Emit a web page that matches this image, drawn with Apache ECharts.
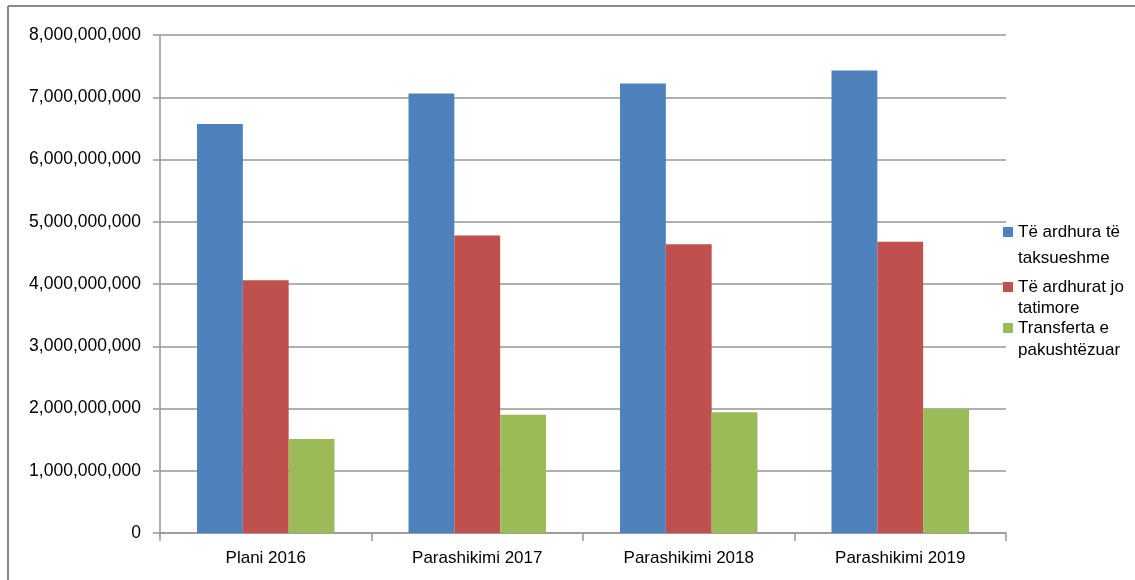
<!DOCTYPE html>
<html>
<head>
<meta charset="utf-8">
<script src="https://cdn.jsdelivr.net/npm/echarts@6/dist/echarts.min.js"></script>
<style>
  html, body { margin: 0; padding: 0; background: #fff; }
  #main { width: 1135px; height: 580px; }
</style>
</head>
<body>
<div id="main"></div>
<script>
// categories and series
var categories = ['Plani 2016', 'Parashikimi 2017', 'Parashikimi 2018', 'Parashikimi 2019'];
var taksueshme = [6570000000, 7060000000, 7220000000, 7430000000];
var joTatimore = [4060000000, 4780000000, 4640000000, 4680000000];
var transferta = [1510000000, 1900000000, 1940000000, 1990000000];
var seriesNames = ['Të ardhura të\ntaksueshme', 'Të ardhurat jo\ntatimore', 'Transferta e\npakushtëzuar'];
var colors = ['#4F81BD', '#C0504D', '#9BBB59'];

var font = 'Liberation Sans, Arial, sans-serif';

function fmt(v) {
    return String(v).replace(/\B(?=(\d{3})+(?!\d))/g, ',');
}

// one legend per item so each can be placed on its own;
// a blank first line keeps the icon level with the first text line
function legendFor(i, iconY, lh) {
    return {
        left: 1003,
        top: iconY - 1.5 * lh,
        orient: 'vertical',
        padding: 0,
        itemWidth: 10,
        itemHeight: 10,
        itemGap: 0,
        icon: 'rect',
        selectedMode: false,
        data: [seriesNames[i]],
        formatter: function (name) { return ' \n' + name; },
        textStyle: {
            fontFamily: font,
            fontSize: 17,
            color: '#000',
            lineHeight: lh
        }
    };
}

var myChart = echarts.init(document.getElementById('main'));
myChart.setOption({
    animation: false,
    color: colors,
    grid: {
        left: 160,
        right: 129,
        top: 35,
        bottom: 47,
        containLabel: false
    },
    legend: [
        legendFor(0, 232, 26),
        legendFor(1, 287, 21),
        legendFor(2, 328, 22)
    ],
    graphic: [
        { type: 'line', shape: { x1: 8, y1: 6, x2: 1135, y2: 6 }, style: { stroke: '#8a8a8a', lineWidth: 2 } },
        { type: 'line', shape: { x1: 8, y1: 6, x2: 8, y2: 580 }, style: { stroke: '#8a8a8a', lineWidth: 2 } }
    ],
    xAxis: {
        type: 'category',
        data: categories,
        axisLine: { lineStyle: { color: '#969696', width: 1.5 } },
        axisTick: { show: true, length: 8, lineStyle: { color: '#969696', width: 1.5 } },
        axisLabel: { fontFamily: font, fontSize: 17, color: '#000', margin: 17 }
    },
    yAxis: {
        type: 'value',
        min: 0,
        max: 8000000000,
        interval: 1000000000,
        axisLine: { show: true, lineStyle: { color: '#969696', width: 1.5 } },
        axisTick: { show: true, length: 7, lineStyle: { color: '#969696', width: 1.5 } },
        splitLine: { lineStyle: { color: '#969696', width: 1.5 } },
        axisLabel: {
            fontFamily: font, fontSize: 17.5, color: '#000', margin: 19,
            formatter: fmt
        }
    },
    series: [
        { name: seriesNames[0], type: 'bar', data: taksueshme, barGap: '0%', barCategoryGap: '35%' },
        { name: seriesNames[1], type: 'bar', data: joTatimore, barGap: '0%', barCategoryGap: '35%' },
        { name: seriesNames[2], type: 'bar', data: transferta, barGap: '0%', barCategoryGap: '35%' }
    ]
});
</script>
</body>
</html>
